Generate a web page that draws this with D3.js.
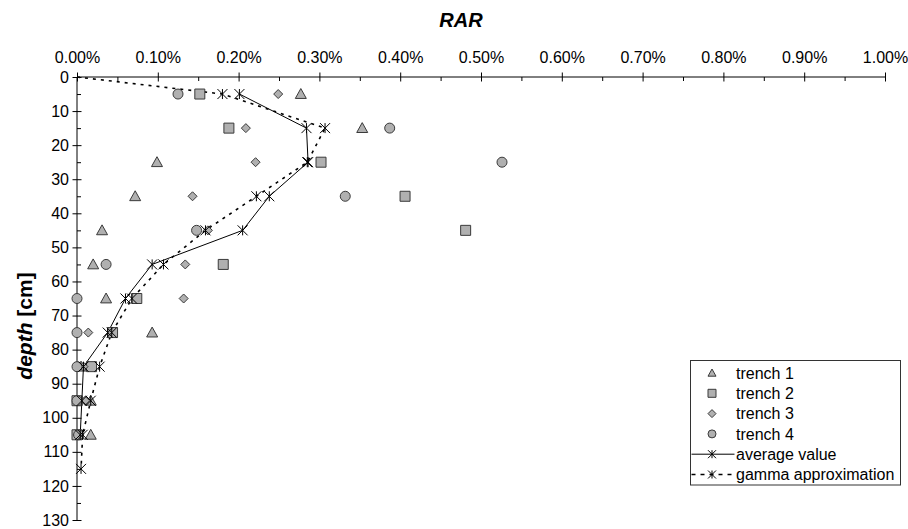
<!DOCTYPE html>
<html>
<head>
<meta charset="utf-8">
<script src="https://cdn.jsdelivr.net/npm/d3@7"></script>
<style>
  body { margin: 0; background: #fff; }
  svg { font-family: "Liberation Sans", Arial, sans-serif; }
</style>
</head>
<body>
<div id="chart"></div>
<script>
// RAR (%) by depth (cm) for four trenches
const depths = [5, 15, 25, 35, 45, 55, 65, 75, 85, 95, 105];
const trench1 = [0.277, 0.353, 0.099, 0.072, 0.031, 0.020, 0.036, 0.093, 0.005, 0.017, 0.017];
const trench2 = [0.152, 0.188, 0.302, 0.406, 0.481, 0.181, 0.074, 0.044, 0.018, 0.000, 0.000];
const trench3 = [0.249, 0.209, 0.221, 0.143, 0.162, 0.134, 0.132, 0.014, 0.008, 0.010, 0.001];
const trench4 = [0.125, 0.387, 0.526, 0.332, 0.148, 0.036, 0.000, 0.000, 0.000, 0.000, 0.002];
const average = [0.201, 0.284, 0.286, 0.238, 0.205, 0.093, 0.060, 0.038, 0.008, 0.006, 0.004];
const gammaDepths = [0, 5, 15, 25, 35, 45, 55, 65, 75, 85, 95, 105, 115];
const gamma = [0, 0.180, 0.307, 0.285, 0.222, 0.159, 0.107, 0.068, 0.043, 0.028, 0.017, 0.007, 0.005];

const xTicks = [0, 0.1, 0.2, 0.3, 0.4, 0.5, 0.6, 0.7, 0.8, 0.9, 1.0];
const yTicks = [0, 10, 20, 30, 40, 50, 60, 70, 80, 90, 100, 110, 120, 130];

const width = 908, height = 529;
const x = d3.scaleLinear().domain([0, 1]).range([77, 885]);
const y = d3.scaleLinear().domain([0, 130]).range([77, 520]);

const svg = d3.select("#chart").append("svg")
    .attr("width", width)
    .attr("height", height);

// top axis: major ticks cross the line, minor ticks point in
svg.append("g")
    .attr("transform", "translate(0," + (y(0) + 4.5) + ")")
    .call(d3.axisTop(x).tickValues(xTicks).tickSize(9).tickPadding(10)
        .tickFormat(d => d.toFixed(2) + "%"))
    .call(g => g.select(".domain").remove())
    .call(g => g.selectAll("text").attr("font-size", 16).attr("fill", "#000"));
svg.append("g")
    .attr("transform", "translate(0," + y(0) + ")")
    .call(d3.axisTop(x).tickValues(xTicks.slice(1).map(d => d - 0.05)).tickSize(-4).tickFormat(""))
    .call(g => g.select(".domain").remove());
svg.append("line")
    .attr("x1", x(0)).attr("x2", x(1))
    .attr("y1", y(0)).attr("y2", y(0))
    .attr("stroke", "#000");

// left axis
svg.append("g")
    .attr("transform", "translate(" + (x(0) + 4.5) + ",0)")
    .call(d3.axisLeft(y).tickValues(yTicks).tickSize(9).tickPadding(3.5))
    .call(g => g.select(".domain").remove())
    .call(g => g.selectAll("text").attr("font-size", 16).attr("fill", "#000"));
svg.append("g")
    .attr("transform", "translate(" + x(0) + ",0)")
    .call(d3.axisLeft(y).tickValues(yTicks.slice(1).map(d => d - 5)).tickSize(-4).tickFormat(""))
    .call(g => g.select(".domain").remove());
svg.append("line")
    .attr("x1", x(0)).attr("x2", x(0))
    .attr("y1", y(0)).attr("y2", y(130))
    .attr("stroke", "#000");

// titles
svg.append("text")
    .attr("x", 461).attr("y", 27)
    .attr("text-anchor", "middle")
    .attr("font-size", 20).attr("font-weight", "bold").attr("font-style", "italic")
    .text("RAR");

const yTitle = svg.append("text")
    .attr("transform", "translate(32,326) rotate(-90)")
    .attr("text-anchor", "middle")
    .attr("font-size", 21).attr("font-weight", "bold");
yTitle.append("tspan").attr("font-style", "italic").text("depth");
yTitle.append("tspan").text(" [cm]");

// marker shapes
const fillGray = "#b0b0b0", strokeDark = "#3a3a3a";
function marker(kind, s) {
    const h = s / 2;
    if (kind === "triangle") return `M0,${-h}L${h},${h * 0.8}L${-h},${h * 0.8}Z`;
    if (kind === "square") return `M${-h},${-h}H${h}V${h}H${-h}Z`;
    if (kind === "diamond") return `M0,${-h}L${h},0L0,${h}L${-h},0Z`;
    if (kind === "circle") return d3.symbol(d3.symbolCircle, Math.PI * h * h)();
    // asterisk: X plus vertical bar
    return `M${-h},${-h}L${h},${h}M${-h},${h}L${h},${-h}M0,${-h}V${h}`;
}

// lines
const line = d3.line().x(d => x(d[0])).y(d => y(d[1]));
svg.append("path")
    .datum(gamma.map((v, i) => [v, gammaDepths[i]]))
    .attr("d", line)
    .attr("fill", "none").attr("stroke", "#000")
    .attr("stroke-width", 1.6).attr("stroke-dasharray", "3,5");
svg.append("path")
    .datum(average.map((v, i) => [v, depths[i]]))
    .attr("d", line)
    .attr("fill", "none").attr("stroke", "#000").attr("stroke-width", 1);

// trench points
const trenches = [
    {name: "trench 1", kind: "triangle", values: trench1},
    {name: "trench 2", kind: "square", values: trench2},
    {name: "trench 3", kind: "diamond", values: trench3},
    {name: "trench 4", kind: "circle", values: trench4}
];
const sizes = {triangle: 11, square: 10, diamond: 9, circle: 10};

trenches.forEach(t => {
    svg.append("g").selectAll("path")
        .data(t.values)
        .enter().append("path")
        .attr("transform", (d, i) => "translate(" + x(d) + "," + y(depths[i]) + ")")
        .attr("d", marker(t.kind, sizes[t.kind]))
        .attr("fill", fillGray).attr("stroke", strokeDark).attr("stroke-width", 1);
});

// asterisks for gamma and average
svg.append("g").selectAll("path")
    .data(gamma.slice(1))
    .enter().append("path")
    .attr("transform", (d, i) => "translate(" + x(d) + "," + y(gammaDepths[i + 1]) + ")")
    .attr("d", marker("asterisk", 10))
    .attr("fill", "none").attr("stroke", "#000");
svg.append("g").selectAll("path")
    .data(average)
    .enter().append("path")
    .attr("transform", (d, i) => "translate(" + x(d) + "," + y(depths[i]) + ")")
    .attr("d", marker("asterisk", 10))
    .attr("fill", "none").attr("stroke", "#000");

// legend
const legend = svg.append("g").attr("transform", "translate(690.5,360.5)");
legend.append("rect")
    .attr("width", 210).attr("height", 124.5)
    .attr("fill", "#fff").attr("stroke", "#333");

const items = trenches.map(t => ({name: t.name, kind: t.kind}))
    .concat([{name: "average value", kind: "avg"}, {name: "gamma approximation", kind: "gamma"}]);

items.forEach((it, i) => {
    const cy = 12.5 + i * 20.3;
    const g = legend.append("g").attr("transform", "translate(0," + cy + ")");
    if (it.kind === "avg" || it.kind === "gamma") {
        g.append("line")
            .attr("x1", 1).attr("x2", 44).attr("y1", 0).attr("y2", 0)
            .attr("stroke", "#000")
            .attr("stroke-width", it.kind === "gamma" ? 1.5 : 1)
            .attr("stroke-dasharray", it.kind === "gamma" ? "4,5" : null);
        g.append("path")
            .attr("transform", "translate(21.5,0)")
            .attr("d", marker("asterisk", 8))
            .attr("fill", "none").attr("stroke", "#000");
    } else {
        g.append("path")
            .attr("transform", "translate(21.5,0)")
            .attr("d", marker(it.kind, 8))
            .attr("fill", fillGray).attr("stroke", strokeDark);
    }
    g.append("text")
        .attr("x", 45.5).attr("dy", "0.35em")
        .attr("font-size", 16)
        .text(it.name);
});
</script>
</body>
</html>
